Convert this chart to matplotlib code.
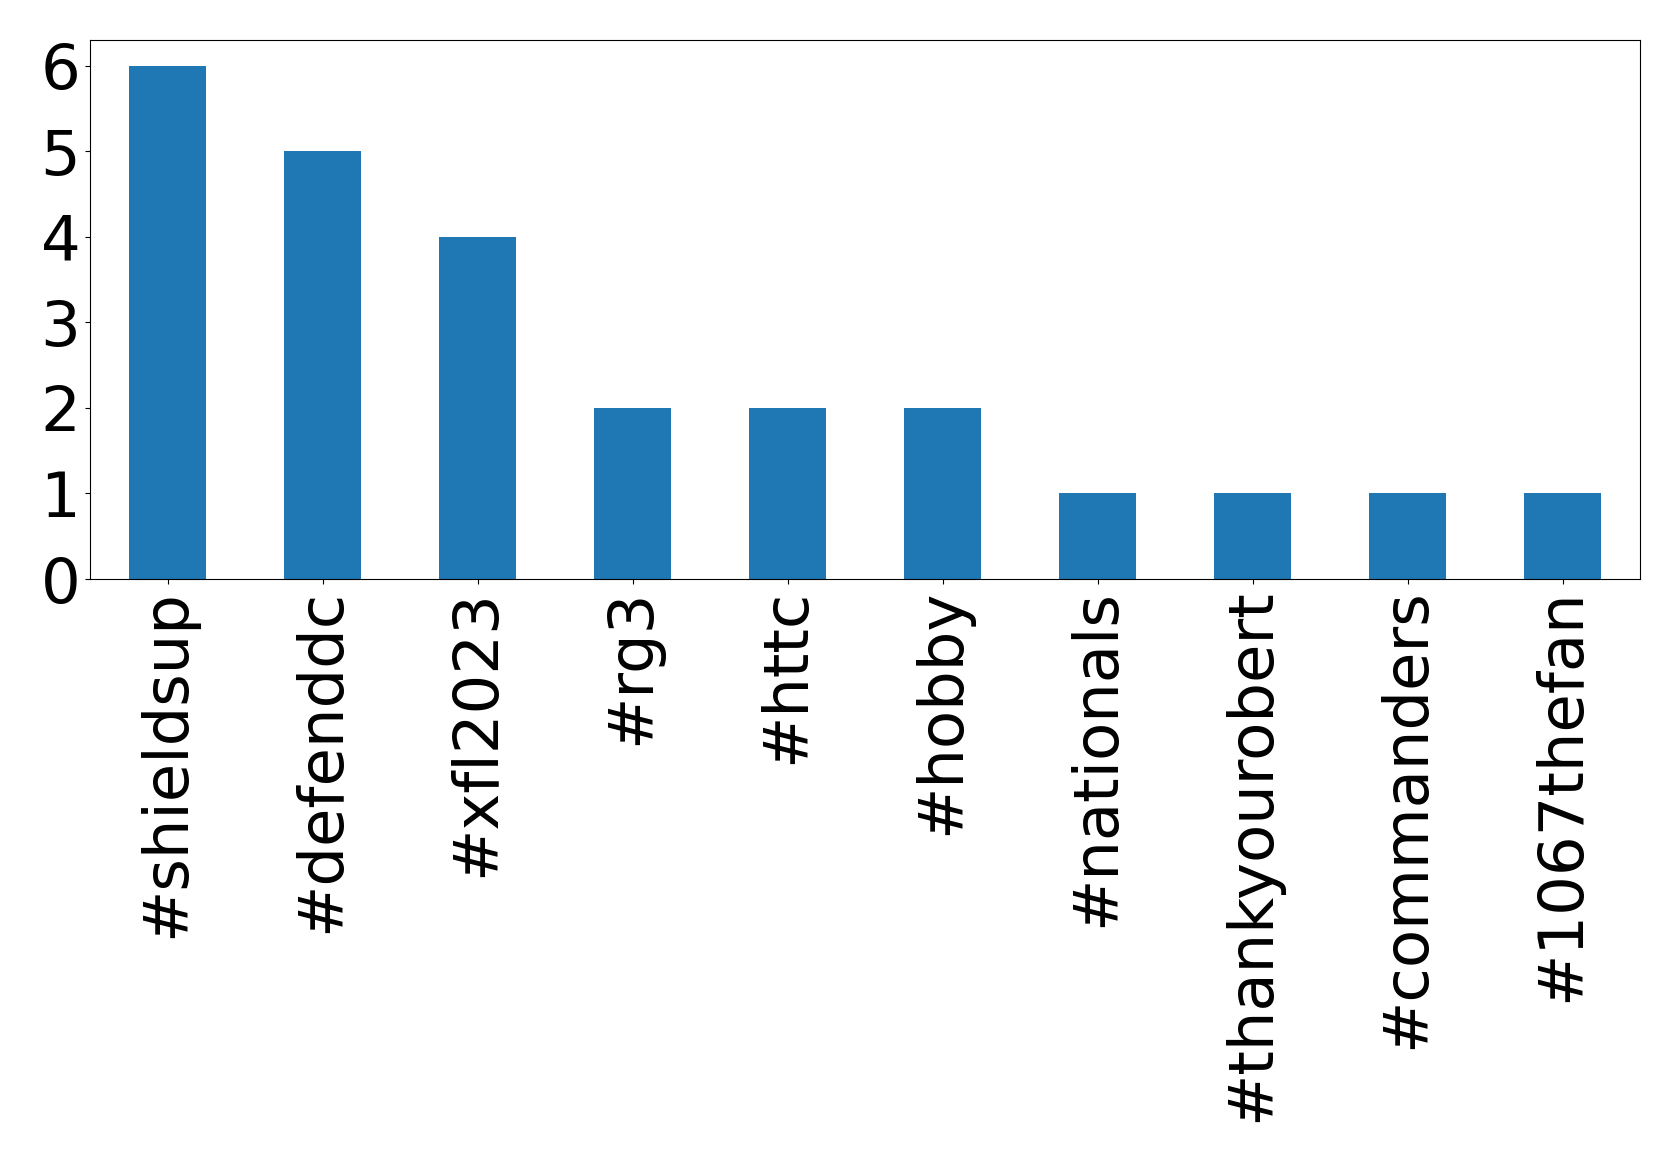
import matplotlib
matplotlib.use("Agg")
import matplotlib.pyplot as plt
import numpy as np

hashtags = ["#shieldsup", "#defenddc", "#xfl2023", "#rg3", "#httc", "#hobby",
            "#nationals", "#thankyourobert", "#commanders", "#1067thefan"]
counts = [6, 5, 4, 2, 2, 2, 1, 1, 1, 1]

plt.rcParams.update({"font.size": 45})

fig = plt.figure(figsize=(16.79, 11.62), dpi=100)
ax = fig.add_axes([90 / 1679, 1 - 579 / 1162, (1640 - 90) / 1679, (579 - 40) / 1162])

x = np.arange(len(hashtags))
ax.bar(x, counts, width=0.5, color="#1f77b4")
ax.set_xlim(-0.5, len(hashtags) - 0.5)
ax.set_ylim(0, 6.3)
ax.set_xticks(x)
ax.set_xticklabels(hashtags, rotation=90)
ax.set_yticks(range(0, 7))

fig.savefig("out.png", dpi=100)
